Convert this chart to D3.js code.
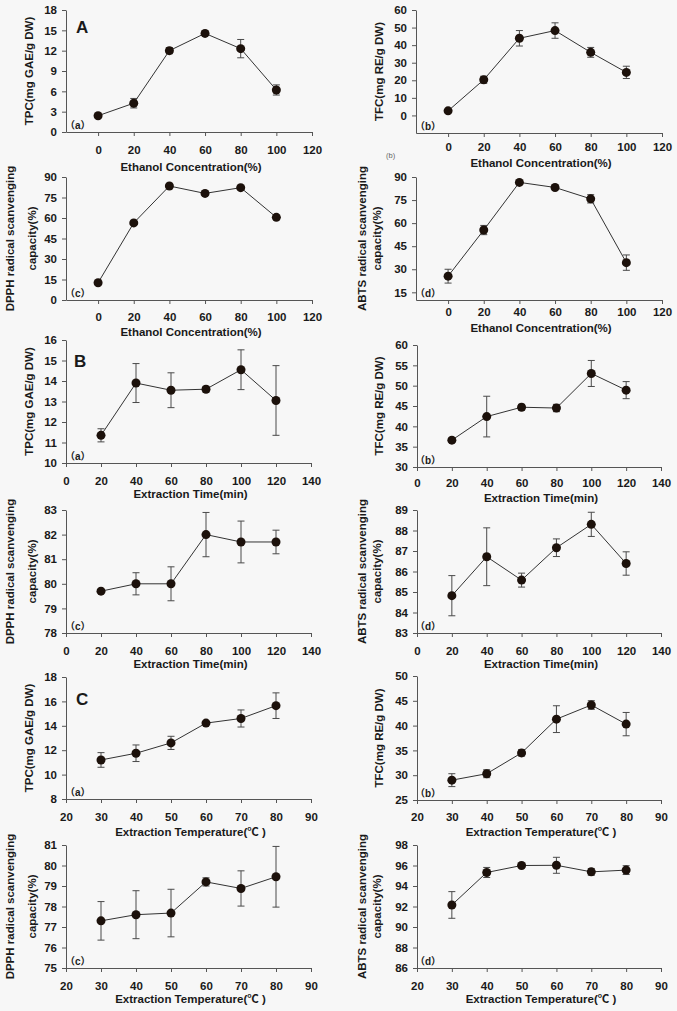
<!DOCTYPE html>
<html>
<head>
<meta charset="utf-8">
<script src="https://cdn.jsdelivr.net/npm/d3@7"></script>
<style>
  body { margin: 0; background: #f7f7f7; }
  svg { display: block; }
  text { font-family: "Liberation Sans", Arial, "Noto Sans CJK SC", sans-serif; fill: #1a1a1a; }
</style>
</head>
<body>
<div id="chart"></div>
<script>
// x values
const ethanolConc = [0, 20, 40, 60, 80, 100];
const extractTime = [20, 40, 60, 80, 100, 120];
const extractTemp = [30, 40, 50, 60, 70, 80];

// tick labels
const ethanolTicks = [0, 20, 40, 60, 80, 100, 120];
const timeTicks = [0, 20, 40, 60, 80, 100, 120, 140];
const tempTicks = [20, 30, 40, 50, 60, 70, 80, 90];

// A - ethanol concentration
const tpcEthanol = [2.4, 4.25, 12.0, 14.55, 12.3, 6.2];
const tpcEthanolSd = [0.2, 0.7, 0.45, 0.2, 1.35, 0.75];
const tfcEthanol = [2.6, 20.3, 43.9, 48.3, 35.9, 24.5];
const tfcEthanolSd = [0.6, 2.0, 4.4, 4.4, 2.8, 3.5];
const dpphEthanol = [12.6, 56.4, 83.4, 78.0, 82.2, 60.5];
const dpphEthanolSd = [1.2, 1.2, 1.0, 1.0, 1.0, 1.0];
const abtsEthanol = [25.5, 55.5, 86.5, 83.2, 75.8, 34.3];
const abtsEthanolSd = [4.5, 3.0, 0.6, 1.0, 2.7, 5.0];

// B - extraction time
const tpcTime = [11.35, 13.9, 13.55, 13.6, 14.55, 13.05];
const tpcTimeSd = [0.32, 0.95, 0.85, 0.14, 0.97, 1.7];
const tfcTime = [36.6, 42.4, 44.7, 44.5, 53.0, 48.9];
const tfcTimeSd = [0.5, 5.0, 0.7, 0.9, 3.2, 2.1];
const dpphTime = [79.7, 80.0, 80.0, 82.0, 81.7, 81.7];
const dpphTimeSd = [0.05, 0.45, 0.69, 0.9, 0.85, 0.48];
const abtsTime = [84.82, 86.72, 85.58, 87.16, 88.3, 86.39];
const abtsTimeSd = [0.98, 1.41, 0.34, 0.43, 0.59, 0.57];

// C - extraction temperature
const tpcTemp = [11.2, 11.75, 12.6, 14.22, 14.6, 15.65];
const tpcTempSd = [0.6, 0.68, 0.54, 0.1, 0.7, 1.05];
const tfcTemp = [29.0, 30.3, 34.5, 41.3, 44.15, 40.3];
const tfcTempSd = [1.3, 0.8, 0.65, 2.7, 0.87, 2.35];
const dpphTemp = [77.3, 77.6, 77.68, 79.2, 78.88, 79.45];
const dpphTempSd = [0.94, 1.17, 1.16, 0.2, 0.86, 1.48];
const abtsTemp = [92.15, 95.32, 96.0, 96.02, 95.38, 95.55];
const abtsTempSd = [1.3, 0.49, 0.15, 0.78, 0.33, 0.43];

// y ticks
const yTicksA = [[0, 3, 6, 9, 12, 15, 18], [0, 10, 20, 30, 40, 50, 60], [0, 15, 30, 45, 60, 75, 90], [15, 30, 45, 60, 75, 90]];
const yTicksB = [[10, 11, 12, 13, 14, 15, 16], [30, 35, 40, 45, 50, 55, 60], [78, 79, 80, 81, 82, 83], [83, 84, 85, 86, 87, 88, 89]];
const yTicksC = [[8, 10, 12, 14, 16, 18], [25, 30, 35, 40, 45, 50], [75, 76, 77, 78, 79, 80, 81], [86, 88, 90, 92, 94, 96, 98]];

const xTitles = ["Ethanol Concentration(%)", "Extraction Time(min)", "Extraction Temperature(\u2103 )"];
const tpcLabel = ["TPC(mg GAE/g DW)"];
const tfcLabel = ["TFC(mg RE/g DW)"];
const dpphLabel = ["DPPH radical scanvenging", "capacity(%)"];
const abtsLabel = ["ABTS radical scanvenging", "capacity(%)"];

const width = 677, height = 1011;

const svg = d3.select("#chart").append("svg")
  .attr("width", width)
  .attr("height", height);

svg.append("rect").attr("width", width).attr("height", height).attr("fill", "#f7f7f7");

// left / right column boxes
const L = {labX: [29], labX2: [10, 32], tag: 69};
const R = {labX: [379], labX2: [362, 377], tag: 419};

const panels = [
  {col: L, top: 10, bottom: 132, xd: [-18, 120], xr: [66, 312], yd: [0, 18], xs: ethanolConc, ys: tpcEthanol, es: tpcEthanolSd, yt: yTicksA[0], xt: ethanolTicks, tl: 150, ti: 167, title: xTitles[0], lab: tpcLabel, tag: "（a）"},
  {col: R, top: 10, bottom: 133, xd: [-18, 120], xr: [416, 662], yd: [-10, 60], xs: ethanolConc, ys: tfcEthanol, es: tfcEthanolSd, yt: yTicksA[1], xt: ethanolTicks, tl: 147, ti: 163, title: xTitles[0], lab: tfcLabel, tag: "（b）"},
  {col: L, top: 177, bottom: 300, xd: [-18, 120], xr: [66, 312], yd: [0, 90], xs: ethanolConc, ys: dpphEthanol, es: dpphEthanolSd, yt: yTicksA[2], xt: ethanolTicks, tl: 317, ti: 332, title: xTitles[0], lab: dpphLabel, tag: "（c）"},
  {col: R, top: 177, bottom: 300, xd: [-18, 120], xr: [416, 662], yd: [10, 90], xs: ethanolConc, ys: abtsEthanol, es: abtsEthanolSd, yt: yTicksA[3], xt: ethanolTicks, tl: 312, ti: 328, title: xTitles[0], lab: abtsLabel, tag: "（d）"},

  {col: L, top: 340, bottom: 463, xd: [0, 140], xr: [66, 311], yd: [10, 16], xs: extractTime, ys: tpcTime, es: tpcTimeSd, yt: yTicksB[0], xt: timeTicks, tl: 481, ti: 494, title: xTitles[1], lab: tpcLabel, tag: "（a）"},
  {col: R, top: 345, bottom: 467, xd: [0, 140], xr: [417, 661], yd: [30, 60], xs: extractTime, ys: tfcTime, es: tfcTimeSd, yt: yTicksB[1], xt: timeTicks, tl: 483, ti: 498, title: xTitles[1], lab: tfcLabel, tag: "（b）"},
  {col: L, top: 510, bottom: 633, xd: [0, 140], xr: [66, 311], yd: [78, 83], xs: extractTime, ys: dpphTime, es: dpphTimeSd, yt: yTicksB[2], xt: timeTicks, tl: 651, ti: 664, title: xTitles[1], lab: dpphLabel, tag: "（c）"},
  {col: R, top: 510, bottom: 633, xd: [0, 140], xr: [417, 661], yd: [83, 89], xs: extractTime, ys: abtsTime, es: abtsTimeSd, yt: yTicksB[3], xt: timeTicks, tl: 651, ti: 664, title: xTitles[1], lab: abtsLabel, tag: "（d）"},

  {col: L, top: 677, bottom: 799, xd: [20, 90], xr: [66, 311], yd: [8, 18], xs: extractTemp, ys: tpcTemp, es: tpcTempSd, yt: yTicksC[0], xt: tempTicks, tl: 817, ti: 832, title: xTitles[2], lab: tpcLabel, tag: "（a）"},
  {col: R, top: 676, bottom: 800, xd: [20, 90], xr: [417, 661], yd: [25, 50], xs: extractTemp, ys: tfcTemp, es: tfcTempSd, yt: yTicksC[1], xt: tempTicks, tl: 817, ti: 832, title: xTitles[2], lab: tfcLabel, tag: "（b）"},
  {col: L, top: 845, bottom: 968, xd: [20, 90], xr: [66, 311], yd: [75, 81], xs: extractTemp, ys: dpphTemp, es: dpphTempSd, yt: yTicksC[2], xt: tempTicks, tl: 986, ti: 999, title: xTitles[2], lab: dpphLabel, tag: "（c）"},
  {col: R, top: 845, bottom: 968, xd: [20, 90], xr: [417, 661], yd: [86, 98], xs: extractTemp, ys: abtsTemp, es: abtsTempSd, yt: yTicksC[3], xt: tempTicks, tl: 986, ti: 999, title: xTitles[2], lab: abtsLabel, tag: "（d）"}
];

panels.forEach(p => {
  const g = svg.append("g");
  const x = d3.scaleLinear().domain(p.xd).range(p.xr);
  const y = d3.scaleLinear().domain(p.yd).range([p.bottom, p.top]);
  const axisX0 = p.xr[0];

  // y axis
  const ya = g.append("g")
    .attr("transform", `translate(${axisX0},0)`)
    .call(d3.axisLeft(y).tickValues(p.yt).tickFormat(d3.format("d")).tickSize(4).tickSizeOuter(0).tickPadding(5));
  // x axis
  const xa = g.append("g")
    .attr("transform", `translate(0,${p.bottom})`)
    .call(d3.axisBottom(x).tickValues(p.xt).tickFormat(d3.format("d")).tickSize(4).tickSizeOuter(0));

  [ya, xa].forEach(a => {
    a.select(".domain").attr("stroke", "#555");
    a.selectAll(".tick line").attr("stroke", "#555");
    a.selectAll("text").attr("font-size", 11.5).attr("font-weight", "bold").attr("fill", "#1a1a1a")
      .attr("font-family", "'Liberation Sans', Arial, sans-serif");
  });
  xa.selectAll("text").attr("y", p.tl - p.bottom).attr("dy", "0.35em");

  // x title
  g.append("text")
    .attr("x", (p.xr[0] + p.xr[1]) / 2 + 2)
    .attr("y", p.ti)
    .attr("dy", "0.35em")
    .attr("text-anchor", "middle")
    .attr("font-size", 11.5)
    .attr("font-weight", "bold")
    .text(p.title);

  // y label (one or two lines)
  const xs = p.lab.length === 1 ? p.col.labX : p.col.labX2;
  const cy = (p.top + p.bottom) / 2;
  p.lab.forEach((t, i) => {
    g.append("text")
      .attr("transform", `translate(${xs[i]},${cy}) rotate(-90)`)
      .attr("dy", "0.35em")
      .attr("text-anchor", "middle")
      .attr("font-size", 11.5)
      .attr("font-weight", "bold")
      .text(t);
  });

  // panel tag
  g.append("text")
    .attr("x", p.col.tag - 4)
    .attr("y", p.bottom - 3)
    .attr("font-size", 10)
    .attr("font-weight", "bold")
    .attr("font-family", "'Noto Sans CJK SC', sans-serif")
    .text(p.tag);

  const pts = p.xs.map((v, i) => ({x: v, y: p.ys[i], e: p.es[i]}));

  // error bars
  const eb = g.selectAll(".eb").data(pts).join("g").attr("stroke", "#4a4a4a").attr("stroke-width", 1);
  eb.append("line").attr("x1", d => x(d.x)).attr("x2", d => x(d.x)).attr("y1", d => y(d.y - d.e)).attr("y2", d => y(d.y + d.e));
  eb.append("line").attr("x1", d => x(d.x) - 3.5).attr("x2", d => x(d.x) + 3.5).attr("y1", d => y(d.y + d.e)).attr("y2", d => y(d.y + d.e));
  eb.append("line").attr("x1", d => x(d.x) - 3.5).attr("x2", d => x(d.x) + 3.5).attr("y1", d => y(d.y - d.e)).attr("y2", d => y(d.y - d.e));

  // line
  g.append("path")
    .datum(pts)
    .attr("fill", "none")
    .attr("stroke", "#333")
    .attr("stroke-width", 1)
    .attr("d", d3.line().x(d => x(d.x)).y(d => y(d.y)));

  // markers
  g.selectAll(".pt").data(pts).join("circle")
    .attr("cx", d => x(d.x))
    .attr("cy", d => y(d.y))
    .attr("r", 4.5)
    .attr("fill", "#1c110b");
});

// big group letters
const groups = [["A", 76, 33], ["B", 74, 367], ["C", 76, 705]];
svg.selectAll(".grp").data(groups).join("text")
  .attr("x", d => d[1])
  .attr("y", d => d[2])
  .attr("font-size", 17)
  .attr("font-weight", "bold")
  .text(d => d[0]);

// stray caption mark under the top right panel
svg.append("text")
  .attr("x", 386).attr("y", 158)
  .attr("font-size", 7.5)
  .attr("font-family", "'Liberation Serif', serif")
  .style("fill", "#666")
  .text("(b)");
</script>
</body>
</html>
